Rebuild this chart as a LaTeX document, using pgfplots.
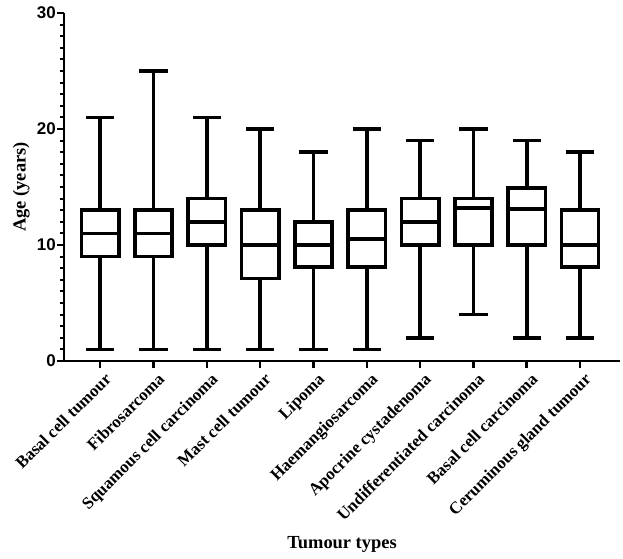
\documentclass[border=0pt]{standalone}
\usepackage{fontspec}
\setmainfont{Liberation Serif}
\newfontfamily\ticksf{Liberation Sans}
\usepackage{pgfplots}
\pgfplotsset{compat=1.18}
\usepgfplotslibrary{statistics}
\begin{document}
\begin{tikzpicture}
\path[use as bounding box] (-64bp,-198bp) rectangle (559bp,361bp);
\begin{axis}[
  scale only axis,
  width=556bp, height=348bp,
  xmin=-0.68, xmax=9.75,
  ymin=0, ymax=30,
  axis x line=bottom, axis y line=left,
  axis line style={line width=2.8bp, -},
  ytick={0,10,20,30},
  minor ytick={1,2,...,29},
  xtick={0,...,9},
  xticklabels={Basal cell tumour, Fibrosarcoma, Squamous cell carcinoma, Mast cell tumour, Lipoma, Haemangiosarcoma, Apocrine cystadenoma, Undifferentiated carcinoma, Basal cell carcinoma, Ceruminous gland tumour},
  x tick label style={font=\fontsize{17}{17}\selectfont\bfseries, rotate=45, anchor=north east, inner sep=2bp, xshift=2bp, yshift=-3bp},
  y tick label style={font=\fontsize{17}{17}\selectfont\ticksf\bfseries, inner sep=1bp},
  /pgf/number format/assume math mode=true,
  tick align=outside,
  major tick length=7bp, minor tick length=4bp,
  every tick/.style={line width=2.5bp, black},
  minor tick style={line width=2bp},
  ylabel={Age (years)},
  ylabel style={font=\fontsize{18.5}{18.5}\selectfont\bfseries, inner sep=0pt, yshift=6bp},
  xlabel={Tumour types},
  xlabel style={font=\fontsize{18.5}{18.5}\selectfont\bfseries, at={(axis description cs:0.5,0)}, anchor=north, yshift=-172bp},
  boxplot/draw direction=y,
  boxplot/box extend=0.7,
  boxplot/whisker extend=0.53,
  clip=false,
]
\pgfplotsset{bx/.style={draw=black, line width=3.6bp, fill=white, solid}}
\addplot[bx, boxplot prepared={draw position=0, lower whisker=1, lower quartile=9, median=11, upper quartile=13, upper whisker=21}] coordinates {};
\addplot[bx, boxplot prepared={draw position=1, lower whisker=1, lower quartile=9, median=11, upper quartile=13, upper whisker=25}] coordinates {};
\addplot[bx, boxplot prepared={draw position=2, lower whisker=1, lower quartile=10, median=12, upper quartile=14, upper whisker=21}] coordinates {};
\addplot[bx, boxplot prepared={draw position=3, lower whisker=1, lower quartile=7.1, median=10, upper quartile=13, upper whisker=20}] coordinates {};
\addplot[bx, boxplot prepared={draw position=4, lower whisker=1, lower quartile=8.1, median=10, upper quartile=12, upper whisker=18}] coordinates {};
\addplot[bx, boxplot prepared={draw position=5, lower whisker=1, lower quartile=8.1, median=10.5, upper quartile=13, upper whisker=20}] coordinates {};
\addplot[bx, boxplot prepared={draw position=6, lower whisker=2, lower quartile=10, median=12, upper quartile=14, upper whisker=19}] coordinates {};
\addplot[bx, boxplot prepared={draw position=7, lower whisker=4, lower quartile=10, median=13.2, upper quartile=14, upper whisker=20}] coordinates {};
\addplot[bx, boxplot prepared={draw position=8, lower whisker=2, lower quartile=10, median=13.1, upper quartile=14.9, upper whisker=19}] coordinates {};
\addplot[bx, boxplot prepared={draw position=9, lower whisker=2, lower quartile=8.1, median=10, upper quartile=13, upper whisker=18}] coordinates {};
\end{axis}
\end{tikzpicture}
\end{document}
